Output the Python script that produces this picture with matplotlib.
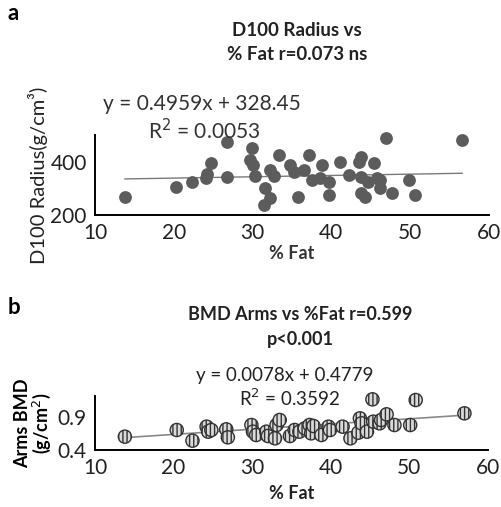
import matplotlib
matplotlib.use("Agg")
import matplotlib.pyplot as plt
import numpy as np

plt.rcParams['font.family'] = ['Lato', 'DejaVu Sans']

# Panel a: D100 Radius vs % Fat
fat_a = [13.8, 20.3, 22.3, 24.1, 24.2, 24.7, 26.7, 26.7, 29.9, 29.7, 30.0, 30.3,
         31.6, 31.4, 32.2, 32.2, 32.7, 33.4, 34.8, 35.2, 35.8, 36.5, 37.1, 37.5,
         38.6, 38.8, 39.7, 39.7, 41.1, 42.2, 43.5, 43.7, 43.7, 44.3, 43.7, 44.7,
         45.4, 45.8, 46.2, 46.9, 46.2, 47.7, 49.8, 50.6, 56.6]
d100 = [269, 306, 325, 337, 354, 394, 475, 344, 450, 406, 388, 346,
        300, 237, 262, 369, 347, 425, 387, 362, 269, 369, 425, 331,
        337, 387, 275, 325, 400, 350, 400, 419, 281, 269, 344, 325,
        396, 337, 300, 487, 331, 281, 331, 275, 481]
slope_a, icpt_a = 0.4959, 328.45

# Panel b: Arms BMD vs % Fat
fat_b = [13.8, 20.4, 22.4, 24.2, 24.4, 24.8, 26.7, 26.9, 29.9, 30.1, 30.5, 31.8,
         32.0, 32.9, 33.1, 33.5, 34.8, 35.4, 36.0, 36.7, 37.3, 37.5, 37.8, 38.8,
         39.7, 39.9, 41.5, 42.5, 43.5, 43.7, 43.9, 44.6, 45.3, 45.4, 46.2, 46.4,
         47.1, 48.1, 50.1, 50.8, 57.0]
bmd = [0.60, 0.70, 0.54, 0.75, 0.675, 0.70, 0.71, 0.59, 0.775, 0.675, 0.625, 0.675,
       0.61, 0.575, 0.775, 0.85, 0.61, 0.70, 0.675, 0.725, 0.775, 0.65, 0.76, 0.625,
       0.75, 0.70, 0.75, 0.575, 0.66, 0.875, 0.80, 0.675, 1.16, 0.825, 0.80, 0.85,
       0.935, 0.775, 0.775, 1.15, 0.95]
slope_b, icpt_b = 0.0078, 0.4779

xticks = [10, 20, 30, 40, 50, 60]

fig = plt.figure(figsize=(5.02, 5.07), dpi=100)

def style(ax, xpad, ypad):
    for s in ['top', 'right']:
        ax.spines[s].set_visible(False)
    for s in ['left', 'bottom']:
        ax.spines[s].set_linewidth(1.4)
        ax.spines[s].set_color('black')
    ax.tick_params(length=0, labelsize=15, labelcolor='#222222')
    ax.tick_params(axis='x', pad=xpad)
    ax.tick_params(axis='y', pad=ypad)

# ---- panel a ----
ax1 = fig.add_axes([95/502, 1-215/507, 394/502, 80/507])
ax1.scatter(fat_a, d100, s=85, color='#5c5c5c', zorder=3, linewidths=0, clip_on=False)
xs = np.array([min(fat_a), max(fat_a)])
ax1.plot(xs, slope_a*xs + icpt_a, color='#7a7a7a', lw=1.0, zorder=2)
ax1.set_xlim(10, 60)
ax1.set_ylim(200, 500)
ax1.set_xticks(xticks)
ax1.set_yticks([200, 400])
style(ax1, 6, 6)
ax1.set_xlabel('% Fat', fontsize=13, fontweight='bold', color='#333333', labelpad=1)
ax1.set_ylabel('D100 Radius(g/cm³)', fontsize=14.5, labelpad=2, color='#222222')

fig.text(8/502, 1-14/507, 'a', fontsize=16, fontweight='bold', va='center')
fig.text(297/502, 1-31/507, 'D100 Radius vs', fontsize=13.5, fontweight='bold',
         ha='center', va='center', color='#222222')
fig.text(297/502, 1-55/507, '% Fat r=0.073 ns', fontsize=13.5, fontweight='bold',
         ha='center', va='center', color='#222222')
fig.text(103/502, 1-104/507, 'y = 0.4959x + 328.45', fontsize=15,
         ha='left', va='center', color='#333333')
fig.text(148/502, 1-131/507, 'R$^2$ = 0.0053', fontsize=15,
         ha='left', va='center', color='#333333')

# ---- panel b ----
ax2 = fig.add_axes([95/502, 1-450/507, 393/502, 54/507])
ax2.scatter(fat_b, bmd, s=90, facecolor='#d9d9d9', edgecolor='#333333',
            hatch='||||', linewidths=1.0, zorder=3, clip_on=False)
xs2 = np.array([min(fat_b), max(fat_b)])
ax2.plot(xs2, slope_b*xs2 + icpt_b, color='#888888', lw=1.2, zorder=2)
ax2.set_xlim(10, 60)
ax2.set_ylim(0.4, 1.21)
ax2.set_xticks(xticks)
ax2.set_yticks([0.4, 0.9])
style(ax2, 6, 6)
ax2.set_xlabel('% Fat', fontsize=13, fontweight='bold', color='#222222', labelpad=5)
ax2.set_ylabel('Arms BMD\n(g/cm$^2$)', fontsize=13, fontweight='bold',
               linespacing=1.0, labelpad=3)

fig.text(8/502, 1-307/507, 'b', fontsize=16, fontweight='bold', va='center')
fig.text(300/502, 1-315/507, 'BMD Arms vs %Fat r=0.599', fontsize=13,
         fontweight='bold', ha='center', va='center', color='#222222')
fig.text(300/502, 1-339/507, 'p<0.001', fontsize=13,
         fontweight='bold', ha='center', va='center', color='#222222')
fig.text(285/502, 1-375/507, 'y = 0.0078x + 0.4779', fontsize=13.5,
         ha='center', va='center', color='#222222')
fig.text(290/502, 1-398/507, 'R$^2$ = 0.3592', fontsize=13.5,
         ha='center', va='center', color='#222222')

fig.savefig('out.png', dpi=100)
